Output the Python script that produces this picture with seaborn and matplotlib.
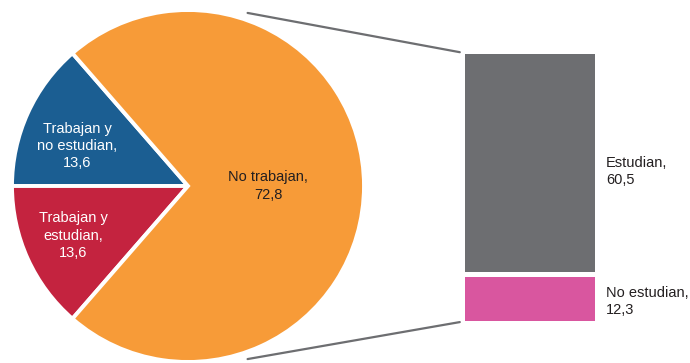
import numpy as np
import seaborn as sns
import matplotlib.pyplot as plt
from matplotlib.patches import ConnectionPatch

# Pie data
pie_labels = ["Trabajan y\nno estudian,", "Trabajan y\nestudian,", "No trabajan,"]
pie_values = [13.6, 13.6, 72.8]
pie_colors = ["#1B5E92", "#C4233F", "#F79B38"]
pie_text_colors = ["white", "white", "#231F20"]

# Breakdown of "No trabajan"
bar_labels = ["No estudian,", "Estudian,"]
bar_values = [12.3, 60.5]
bar_colors = ["#D9569F", "#6D6E71"]

sns.set_theme(style="white")
plt.rcParams["font.family"] = ["Liberation Sans", "DejaVu Sans"]

fig = plt.figure(figsize=(6.9, 3.63), dpi=100)

# Pie
ax_pie = fig.add_axes([12 / 690, 1 / 363, 352 / 690, 352 / 363])
start = 180 - pie_values[0] / sum(pie_values) * 360
wedges, _ = ax_pie.pie(pie_values, colors=pie_colors, startangle=start,
                       wedgeprops=dict(edgecolor="white", linewidth=2.8))
ax_pie.set_xlim(-1, 1)
ax_pie.set_ylim(-1, 1)

label_dist = [0.66, 0.70, 0.455]
label_shift = [(-3.5, -6), (-2, 1), (0, 0)]  # points
for w, lab, val, col, r, sh in zip(wedges, pie_labels, pie_values, pie_text_colors, label_dist, label_shift):
    mid = np.deg2rad((w.theta1 + w.theta2) / 2)
    ax_pie.annotate(f"{lab}\n{val:.1f}".replace(".", ","), xy=(r * np.cos(mid), r * np.sin(mid)),
                    xytext=sh, textcoords="offset points",
                    ha="center", va="center", color=col, fontsize=10.5, linespacing=1.3)

# Stacked bar
gap = 1.4
ax_bar = fig.add_axes([465 / 690, 42 / 363, 130 / 690, 267 / 363])
bottoms = [0, bar_values[0] + gap]
ax_bar.bar([0, 0], bar_values, bottom=bottoms, width=1, color=bar_colors, linewidth=0)
ax_bar.set_xlim(-0.5, 0.5)
ax_bar.set_ylim(0, sum(bar_values) + gap)
ax_bar.axis("off")

bar_shift = [-2, -6]
for lab, val, b, sh in zip(bar_labels, bar_values, bottoms, bar_shift):
    ax_bar.annotate(f"{lab}\n{val:.1f}".replace(".", ","), xy=(0.5, b + val / 2),
                    xytext=(8, sh), textcoords="offset points", ha="left", va="center",
                    color="#231F20", fontsize=10.5, linespacing=1.3, annotation_clip=False)

# Connector lines
top = sum(bar_values) + gap
ang = np.deg2rad(71)
for sgn, yb in [(1, top + 0.5), (-1, -0.3)]:
    con = ConnectionPatch(xyA=(1.04 * np.cos(ang), sgn * 1.04 * np.sin(ang)), coordsA=ax_pie.transData,
                          xyB=(-0.54, yb), coordsB=ax_bar.transData,
                          color="#6D6E71", linewidth=1.6)
    fig.add_artist(con)

plt.savefig("out.png", dpi=100)
